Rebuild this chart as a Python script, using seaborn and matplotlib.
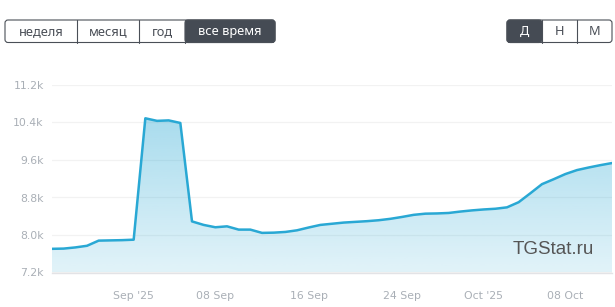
import numpy as np
import pandas as pd
import matplotlib
matplotlib.use("Agg")
import matplotlib.pyplot as plt
import matplotlib.dates as mdates
from matplotlib.patches import FancyBboxPatch
import seaborn as sns

# ---- data ----
start_date = "2025-08-25"
end_date = "2025-10-12"
subscribers = [
    7705, 7710, 7735, 7770, 7880, 7885, 7890,            # Aug 25-31
    7900, 10490, 10435, 10445, 10390, 8290, 8215,        # Sep 1-7
    8165, 8185, 8115, 8115, 8045, 8050, 8065, 8100,      # Sep 8-15
    8160, 8215, 8240, 8265, 8280, 8295, 8315, 8345,      # Sep 16-23
    8385, 8430, 8455, 8460, 8470, 8500, 8525,            # Sep 24-30
    8545, 8560, 8590, 8700, 8890, 9085, 9190,            # Oct 1-7
    9300, 9385, 9440, 9490, 9535,                        # Oct 8-12
]
y_ticks = [7200, 8000, 8800, 9600, 10400, 11200]
y_tick_labels = ["7.2k", "8.0k", "8.8k", "9.6k", "10.4k", "11.2k"]
x_tick_dates = ["2025-09-01", "2025-09-08", "2025-09-16", "2025-09-24", "2025-10-01", "2025-10-08"]
x_tick_labels = ["Sep '25", "08 Sep", "16 Sep", "24 Sep", "Oct '25", "08 Oct"]
period_buttons = ["неделя", "месяц", "год", "все время"]
scale_buttons = ["Д", "Н", "М"]
watermark = "TGStat.ru"

dates = pd.date_range(start_date, end_date, freq="D")
df = pd.DataFrame({"date": dates, "value": subscribers})

sns.set_theme(style="white")
plt.rcParams["font.family"] = ["DejaVu Sans"]

W, H = 615, 307
fig = plt.figure(figsize=(W / 100, H / 100), dpi=100)
fig.patch.set_facecolor("white")

# main plot area (pixels: x 52..612, y 85..272.5)
left, right = 52 / W, 612 / W
bottom, top = (H - 272.5) / H, (H - 85) / H
ax = fig.add_axes([left, bottom, right - left, top - bottom])
ax.set_facecolor("white")

line_color = "#29a8d4"
ymin, ymax = 7200, 11200
xnum = mdates.date2num(df["date"])

# gradient area fill
poly = ax.fill_between(df["date"], df["value"], ymin, color="none", lw=0)
n = 256
rgb = np.array(matplotlib.colors.to_rgb(line_color))
img = np.ones((n, 1, 4))
img[..., :3] = rgb
img[..., 3] = np.linspace(0.14, 0.46, n)[:, None]
im = ax.imshow(img, aspect="auto", origin="lower",
               extent=[xnum[0], xnum[-1], ymin, ymax], zorder=1, interpolation="bilinear")
im.set_clip_path(poly.get_paths()[0], transform=ax.transData)

sns.lineplot(data=df, x="date", y="value", ax=ax, color=line_color, lw=1.8, zorder=3)
for l in ax.lines:
    l.set_solid_joinstyle("round")
    l.set_solid_capstyle("round")

ax.set_xlabel("")
ax.set_ylabel("")
ax.set_yticks(y_ticks)
ax.set_yticklabels(y_tick_labels)
ax.set_xticks(mdates.date2num(pd.to_datetime(x_tick_dates)))
ax.set_xticklabels(x_tick_labels)
ax.set_xlim(xnum[0], xnum[-1])
ax.set_ylim(ymin, ymax)
ax.grid(axis="y", color="#f2f2f2", lw=0.9)
ax.grid(axis="x", visible=False)
for s in ["top", "right", "left"]:
    ax.spines[s].set_visible(False)
ax.spines["bottom"].set_color("#e3e3e6")
ax.spines["bottom"].set_linewidth(1.0)
ax.tick_params(axis="x", which="both", length=5, width=0.9, color="#e3e3e6",
               labelcolor="#a9afb6", labelsize=7.8, pad=8, direction="out")
ax.tick_params(axis="y", length=0, labelcolor="#a9afb6", labelsize=7.8, pad=6)
ax.set_axisbelow(True)

# overlay for UI elements in pixel coordinates
ov = fig.add_axes([0, 0, 1, 1], zorder=5)
ov.set_xlim(0, W)
ov.set_ylim(H, 0)
ov.axis("off")
ov.patch.set_alpha(0)

ov.text(553, 250, watermark, ha="center", va="center", fontsize=13.5,
        color="#555555", family=["Liberation Sans", "DejaVu Sans"])

dark = "#454b54"
border = "#4a4f57"

def button_group(x_edges, labels, active, y0=20, y1=42.5):
    a0, a1 = x_edges[active], x_edges[active + 1]
    ov.add_patch(FancyBboxPatch((a0, y0), a1 - a0, y1 - y0,
                                boxstyle="round,pad=0,rounding_size=3",
                                fc=dark, ec=dark, lw=0.8, zorder=2))
    ov.add_patch(FancyBboxPatch((x_edges[0], y0), x_edges[-1] - x_edges[0], y1 - y0,
                                boxstyle="round,pad=0,rounding_size=3",
                                fc="none", ec=border, lw=0.8, zorder=3))
    for xe in x_edges[1:-1]:
        ov.plot([xe, xe], [y0, y1], color=border, lw=0.8, zorder=3)
    for i, lab in enumerate(labels):
        cx = (x_edges[i] + x_edges[i + 1]) / 2
        on = i == active
        ov.text(cx, (y0 + y1) / 2 + 0.5, lab, ha="center", va="center",
                fontsize=9.2, color="white" if on else "#4a4f57",
                fontweight="bold" if (on and len(lab) == 1) else "normal",
                family=["Noto Sans", "DejaVu Sans"], zorder=4)

button_group([5, 77, 139, 185, 275], period_buttons, 3)
button_group([507, 542, 577, 612], scale_buttons, 0)

fig.savefig("out.png", dpi=100)
